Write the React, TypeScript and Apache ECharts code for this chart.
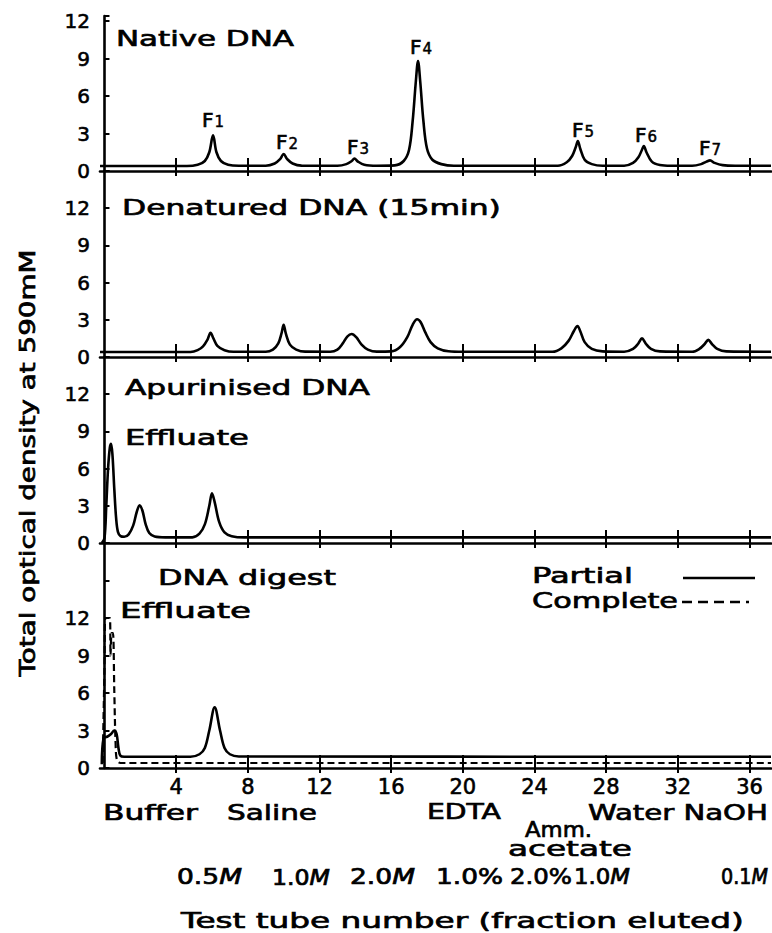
import React, { useEffect, useRef } from 'react';
import * as echarts from 'echarts';

// ---------- data ----------
const X_MIN = -0.25;
const X_MAX = 37.2;
const xTickValues = [4, 8, 12, 16, 20, 24, 28, 32, 36];
const yLabelValues = [0, 3, 6, 9, 12];
const panelMax = [12.4, 15, 15, 18];

const nativeDNA: [number, number][] = [
  [-0.25, 0.4], [4.6, 0.4], [5.2, 0.5], [5.6, 0.8], [5.85, 1.5], [6.06, 2.85], [6.25, 1.5], [6.5, 0.8], [6.9, 0.5], [7.5, 0.42],
  [9.0, 0.42], [9.5, 0.6], [9.8, 0.95], [10.0, 1.35], [10.2, 0.95], [10.5, 0.6], [11.0, 0.43],
  [13.0, 0.42], [13.5, 0.55], [13.8, 0.8], [13.95, 1.0], [14.15, 0.75], [14.5, 0.5], [15.2, 0.42],
  [16.2, 0.45], [16.7, 0.8], [17.0, 1.7], [17.2, 4.0], [17.38, 7.2], [17.5, 8.8], [17.62, 7.2], [17.8, 4.0], [18.0, 1.8], [18.3, 0.9], [18.8, 0.55], [19.5, 0.42],
  [25.3, 0.42], [25.8, 0.7], [26.1, 1.2], [26.3, 1.9], [26.42, 2.4], [26.55, 1.8], [26.8, 0.9], [27.2, 0.55], [27.8, 0.42],
  [29.0, 0.42], [29.5, 0.65], [29.8, 1.1], [30.0, 1.7], [30.1, 2.0], [30.25, 1.5], [30.55, 0.75], [31.0, 0.48], [31.6, 0.42],
  [32.8, 0.42], [33.3, 0.55], [33.6, 0.75], [33.8, 0.85], [34.05, 0.65], [34.5, 0.47], [35.2, 0.42], [37.2, 0.42],
];

const denaturedDNA: [number, number][] = [
  [-0.25, 0.4], [4.8, 0.4], [5.2, 0.55], [5.5, 0.85], [5.75, 1.4], [5.92, 1.95], [6.08, 1.5], [6.3, 0.9], [6.7, 0.55], [7.2, 0.42],
  [9.0, 0.42], [9.4, 0.6], [9.7, 1.1], [9.88, 1.9], [10.0, 2.6], [10.12, 1.9], [10.35, 1.0], [10.7, 0.6], [11.2, 0.43],
  [12.6, 0.42], [13.0, 0.6], [13.3, 1.1], [13.55, 1.65], [13.8, 1.85], [14.05, 1.6], [14.35, 1.0], [14.7, 0.6], [15.2, 0.43],
  [16.0, 0.45], [16.5, 0.8], [16.9, 1.6], [17.2, 2.6], [17.45, 3.05], [17.65, 2.8], [17.9, 2.0], [18.2, 1.2], [18.6, 0.7], [19.2, 0.46], [20.0, 0.42],
  [25.0, 0.42], [25.5, 0.7], [25.9, 1.3], [26.2, 2.1], [26.4, 2.5], [26.55, 2.1], [26.8, 1.2], [27.2, 0.65], [27.8, 0.45],
  [29.0, 0.42], [29.5, 0.65], [29.8, 1.1], [30.0, 1.5], [30.2, 1.1], [30.5, 0.65], [31.0, 0.45],
  [32.8, 0.42], [33.2, 0.65], [33.5, 1.05], [33.7, 1.38], [33.9, 1.05], [34.2, 0.65], [34.7, 0.45], [37.2, 0.42],
];

const apurinisedDNA: [number, number][] = [
  [-0.15, 0], [0.0, 0.4], [0.1, 3.0], [0.2, 6.0], [0.3, 7.7], [0.37, 8.0], [0.45, 7.0], [0.55, 4.3], [0.65, 2.0], [0.75, 0.9], [0.9, 0.55],
  [1.1, 0.5], [1.35, 0.7], [1.6, 1.4], [1.8, 2.5], [1.96, 3.05], [2.12, 2.6], [2.3, 1.5], [2.5, 0.8], [2.8, 0.52], [3.4, 0.45],
  [4.9, 0.45], [5.3, 0.75], [5.6, 1.5], [5.85, 3.0], [6.0, 4.0], [6.15, 3.3], [6.4, 1.7], [6.7, 0.85], [7.1, 0.55], [7.8, 0.45], [37.2, 0.45],
];

const digestPartial: [number, number][] = [
  [-0.15, 0.3], [-0.05, 2.4], [0.15, 2.5], [0.35, 2.7], [0.55, 3.0], [0.68, 2.7], [0.78, 1.6], [0.88, 1.0], [1.1, 0.9],
  [4.8, 0.9], [5.3, 1.1], [5.6, 1.6], [5.85, 3.0], [6.15, 4.85], [6.45, 3.0], [6.7, 1.6], [7.0, 1.1], [7.5, 0.92], [37.2, 0.9],
];

const digestComplete: [number, number][] = [
  [-0.1, 0.4], [0.0, 8.0], [0.05, 12.0], [0.3, 12.0], [0.34, 9.0], [0.4, 10.8], [0.47, 10.8], [0.55, 6.0], [0.62, 2.0], [0.7, 0.6], [0.9, 0.4], [37.2, 0.4],
];

const panelTitles = ['Native DNA', 'Denatured DNA (15min)', 'Apurinised DNA', 'DNA digest'];
const effluateLabel = 'Effluate';
const peakNames = ['1', '2', '3', '4', '5', '6', '7'];
const eluents = ['Buffer', 'Saline', 'EDTA', 'Amm.', 'acetate', 'Water NaOH'];
const concentrations: [string, string][] = [
  ['0.5', 'M'], ['1.0', 'M'], ['2.0', 'M'], ['1.0%', ''], ['2.0%', ''], ['1.0', 'M'], ['0.1', 'M'],
];
const legendNames = ['Partial', 'Complete'];
const yTitle = 'Total optical density at 590mM';
const xTitle = 'Test tube number (fraction eluted)';

// ---------- layout ----------
const W = 772;
const H = 933;
const GRID_LEFT = 100;
const GRID_RIGHT = 1;
const gridTops = [16, 171, 357, 543];
const gridHeights = [155, 186, 186, 225];
const FF = '"DejaVu Sans"';
const WEIGHT = 'normal';
const THICK = 0.7;

function measure(text: string, size: number, weight = WEIGHT, style = 'normal') {
  const c = document.createElement('canvas').getContext('2d')!;
  c.font = `${style} ${weight} ${size}px ${FF}`;
  return c.measureText(text).width;
}

function label(text: string, x: number, y: number, width: number, size = 22, extra: any = {}) {
  const w = measure(text, size);
  const { align, ...rest } = extra;
  return {
    type: 'text',
    x,
    y,
    scaleX: width / w,
    silent: true,
    ...rest,
    style: {
      text,
      fill: '#000',
      stroke: '#000',
      lineWidth: THICK,
      font: `${WEIGHT} ${size}px ${FF}`,
      textAlign: align || 'left',
      textVerticalAlign: 'middle',
    },
  };
}

function concLabel(num: string, unit: string, x: number, y: number, width: number, size = 21) {
  const w = measure(num, size) + (unit ? measure(unit, size, WEIGHT, 'italic') : 0);
  const base = { fontSize: size, fontFamily: FF, fontWeight: WEIGHT, fill: '#000', stroke: '#000', lineWidth: THICK };
  return {
    type: 'text',
    x,
    y,
    scaleX: width / w,
    silent: true,
    style: {
      text: unit ? `{n|${num}}{i|${unit}}` : `{n|${num}}`,
      fill: '#000',
      textAlign: 'left',
      textVerticalAlign: 'middle',
      rich: {
        n: base,
        i: { ...base, fontStyle: 'italic' },
      },
    },
  };
}

function peakLabel(digit: string, x: number, y: number) {
  return {
    type: 'text',
    x,
    y,
    silent: true,
    style: {
      text: `{f|F}{d|${digit}}`,
      fill: '#000',
      textAlign: 'left',
      textVerticalAlign: 'middle',
      rich: {
        f: { fontSize: 20, fontFamily: FF, fontWeight: WEIGHT, fill: '#000', stroke: '#000', lineWidth: THICK, padding: [0, 1, 0, 0] },
        d: { fontSize: 15, fontFamily: FF, fontWeight: WEIGHT, fill: '#000', stroke: '#000', lineWidth: 0.5, padding: [4, 0, 0, 0] },
      },
    },
  };
}

function buildOption() {
  const grids = gridTops.map((top, i) => ({ left: GRID_LEFT, right: GRID_RIGHT, top, height: gridHeights[i] }));
  const xAxes: any[] = [];
  const yAxes: any[] = [];
  const numStyle = {
    color: '#000',
    fontFamily: FF,
    fontWeight: WEIGHT,
    textBorderColor: '#000',
    textBorderWidth: 0.6,
  };
  gridTops.forEach((_, i) => {
    xAxes.push({
      type: 'value',
      gridIndex: i,
      min: X_MIN,
      max: X_MAX,
      position: 'bottom',
      axisLine: { show: true, onZero: false, lineStyle: { color: '#000', width: 2.6 } },
      axisTick: { show: true, inside: true, length: 13, lineStyle: { color: '#000', width: 2 }, customValues: xTickValues },
      axisLabel: {
        show: i === 3,
        customValues: xTickValues,
        fontSize: 21,
        margin: 8,
        ...numStyle,
      },
      splitLine: { show: false },
    });
    xAxes.push({
      type: 'value',
      gridIndex: i,
      min: X_MIN,
      max: X_MAX,
      position: 'bottom',
      axisLine: { show: false, onZero: false },
      axisTick: { show: true, inside: false, length: 5, lineStyle: { color: '#000', width: 2 }, customValues: xTickValues },
      axisLabel: { show: false },
      splitLine: { show: false },
    });
    yAxes.push({
      type: 'value',
      gridIndex: i,
      min: 0,
      max: panelMax[i],
      interval: 3,
      axisLine: { show: true, lineStyle: { color: '#000', width: 2.6 } },
      axisTick: { show: true, inside: true, length: 5, lineStyle: { color: '#000', width: 2 } },
      axisLabel: {
        fontSize: 20,
        margin: 10,
        ...numStyle,
        formatter: (v: number) => (yLabelValues.includes(v) ? String(v) : ''),
      },
      splitLine: { show: false },
    });
  });

  const line = (data: [number, number][], i: number, dashed = false, width = 2.6) => ({
    type: 'line',
    xAxisIndex: 2 * i,
    yAxisIndex: i,
    data,
    showSymbol: false,
    smooth: 0.35,
    clip: true,
    lineStyle: { color: '#000', width, type: dashed ? [7, 4] : 'solid' },
  });

  const series = [
    line(nativeDNA, 0),
    line(denaturedDNA, 1),
    line(apurinisedDNA, 2),
    line(digestPartial, 3),
    line(digestComplete, 3, true, 2.2),
  ];

  const peakPos: [number, number][] = [
    [202, 120], [276, 142], [347, 147], [410, 47], [572, 130], [635, 135], [699, 148],
  ];

  const graphics: any[] = [
    label(panelTitles[0], 116, 38, 178),
    label(panelTitles[1], 122, 207, 379),
    label(panelTitles[2], 125, 387, 245),
    label(effluateLabel, 125, 437, 124),
    label(panelTitles[3], 158, 577, 178),
    label(effluateLabel, 120, 610, 131),
    label(legendNames[0], 532, 575, 101),
    label(legendNames[1], 532, 600, 146),
    { type: 'line', silent: true, shape: { x1: 683, y1: 578, x2: 755, y2: 578 }, style: { stroke: '#000', lineWidth: 2.4 } },
    { type: 'line', silent: true, shape: { x1: 682, y1: 602, x2: 749, y2: 602 }, style: { stroke: '#000', lineWidth: 2.4, lineDash: [10, 6] } },
    ...peakNames.map((d, k) => peakLabel(d, peakPos[k][0], peakPos[k][1])),
    label(eluents[0], 103, 812, 95),
    label(eluents[1], 227, 812, 90),
    label(eluents[2], 427, 812, 74),
    label(eluents[3], 525, 829, 67),
    label(eluents[4], 508, 849, 124),
    label(eluents[5], 588, 812, 180),
    concLabel(concentrations[0][0], concentrations[0][1], 177, 877, 65),
    concLabel(concentrations[1][0], concentrations[1][1], 272, 877, 58),
    concLabel(concentrations[2][0], concentrations[2][1], 350, 877, 65),
    concLabel(concentrations[3][0], concentrations[3][1], 436, 877, 67),
    concLabel(concentrations[4][0], concentrations[4][1], 510, 877, 62),
    concLabel(concentrations[5][0], concentrations[5][1], 574, 877, 56),
    concLabel(concentrations[6][0], concentrations[6][1], 721, 877, 47),
    label(xTitle, 181, 921, 563, 22),
    label(yTitle, 28, 463, 427, 21, { rotation: Math.PI / 2, align: 'center' }),
  ];

  return {
    animation: false,
    backgroundColor: '#fff',
    grid: grids,
    xAxis: xAxes,
    yAxis: yAxes,
    series,
    graphic: { elements: graphics },
  };
}

export default function App() {
  const ref = useRef<HTMLDivElement>(null);
  useEffect(() => {
    if (!ref.current) return;
    const chart = echarts.init(ref.current, undefined, { renderer: 'svg' });
    chart.setOption(buildOption() as any);
    return () => chart.dispose();
  }, []);
  return (
    <div
      ref={ref}
      style={{ position: 'absolute', left: 0, top: 0, width: W, height: H, background: '#fff' }}
    />
  );
}
